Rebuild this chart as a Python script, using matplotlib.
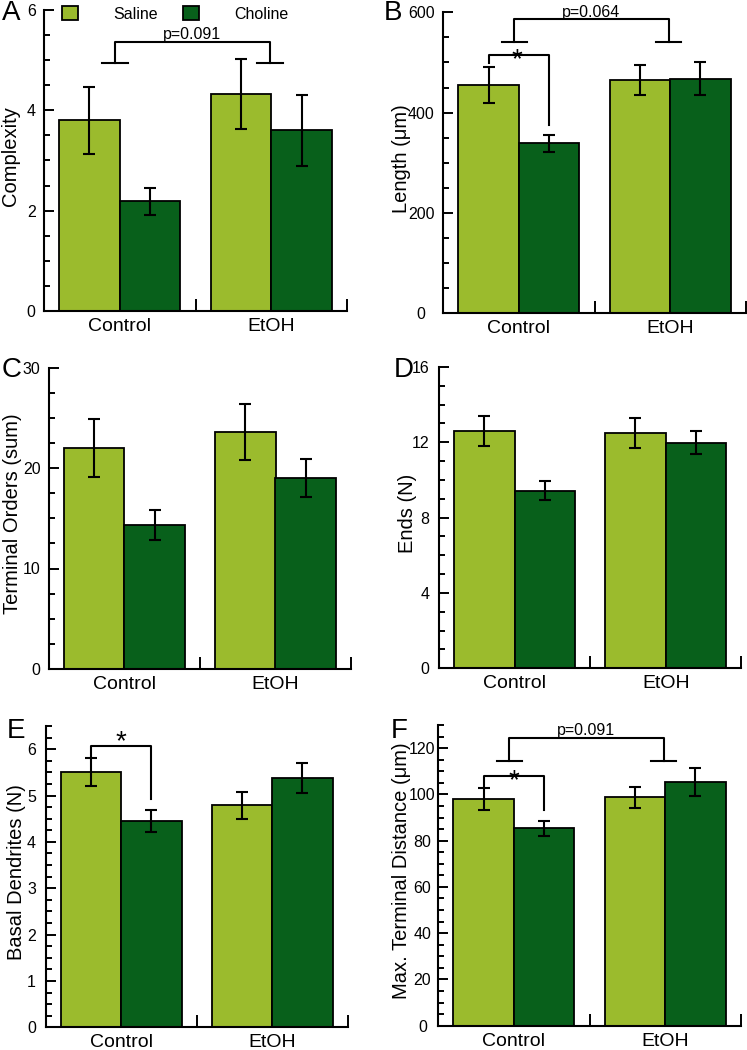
import matplotlib
matplotlib.use("Agg")
import matplotlib.pyplot as plt
from matplotlib.patches import Patch
from matplotlib.ticker import MultipleLocator

plt.rcParams["font.family"] = ["Liberation Sans", "DejaVu Sans"]

W, H = 747, 1050

groups = ["Control", "EtOH"]
saline_color = "#9bbb2d"
choline_color = "#08601b"

# means and error bars
complexity_saline = [3.80, 4.33]
complexity_saline_err = [0.67, 0.70]
complexity_choline = [2.19, 3.60]
complexity_choline_err = [0.27, 0.70]

length_saline = [455, 465]
length_saline_err = [35, 29]
length_choline = [339, 468]
length_choline_err = [17, 32]

orders_saline = [22.0, 23.6]
orders_saline_err = [2.9, 2.8]
orders_choline = [14.3, 19.0]
orders_choline_err = [1.5, 1.9]

ends_saline = [12.6, 12.5]
ends_saline_err = [0.8, 0.8]
ends_choline = [9.43, 11.98]
ends_choline_err = [0.5, 0.6]

basal_saline = [5.51, 4.79]
basal_saline_err = [0.31, 0.29]
basal_choline = [4.45, 5.38]
basal_choline_err = [0.23, 0.32]

dist_saline = [98.0, 98.7]
dist_saline_err = [4.7, 4.4]
dist_choline = [85.3, 105.2]
dist_choline_err = [3.3, 6.0]


def rect(l, r, t, b):
    return [l / W, 1 - b / H, (r - l) / W, (b - t) / H]


panels = [
    dict(letter="A", box=(44, 347, 10, 311), lpos=(2, 20), ylim=6, major=2, minor=0.5,
         ylabel="Complexity", lx=-0.112, tha="right", tpad=6,
         s=complexity_saline, se=complexity_saline_err,
         c=complexity_choline, ce=complexity_choline_err),
    dict(letter="B", box=(443.3, 745.7, 12.3, 313.3), lpos=(384, 20), ylim=600, major=200, minor=50,
         ylabel="Length (\u03bcm)", lx=-0.137, tha="center", tpad=16,
         s=length_saline, se=length_saline_err,
         c=length_choline, ce=length_choline_err),
    dict(letter="C", box=(49, 351, 367.5, 669), lpos=(2, 377), ylim=30, major=10, minor=2.5,
         ylabel="Terminal Orders (sum)", lx=-0.121, tha="right", tpad=6,
         s=orders_saline, se=orders_saline_err,
         c=orders_choline, ce=orders_choline_err),
    dict(letter="D", box=(439, 741.3, 367, 668.3), lpos=(394, 377), ylim=16, major=4, minor=1,
         ylabel="Ends (N)", lx=-0.104, tha="right", tpad=7,
         s=ends_saline, se=ends_saline_err,
         c=ends_choline, ce=ends_choline_err),
    dict(letter="E", box=(45.7, 347.7, 726, 1027.3), lpos=(7, 738), ylim=6.5, major=1, minor=0.25,
         ylabel="Basal Dendrites (N)", lx=-0.096, tha="right", tpad=7,
         s=basal_saline, se=basal_saline_err,
         c=basal_choline, ce=basal_choline_err),
    dict(letter="F", box=(438.3, 740.7, 725, 1025.7), lpos=(391, 738), ylim=130, major=20, minor=5,
         ylabel="Max. Terminal Distance (\u03bcm)", lx=-0.123, tha="center", tpad=11.5,
         s=dist_saline, se=dist_saline_err,
         c=dist_choline, ce=dist_choline_err),
]

fig = plt.figure(figsize=(W / 100, H / 100), dpi=100)
axes = {}

for p in panels:
    ax = fig.add_axes(rect(*p["box"]))
    axes[p["letter"]] = ax
    xs = [0.3, 1.3]
    xc = [0.7, 1.7]
    ax.bar(xs, p["s"], width=0.4, color=saline_color, edgecolor="black", linewidth=1.3, zorder=2)
    ax.bar(xc, p["c"], width=0.4, color=choline_color, edgecolor="black", linewidth=1.3, zorder=2)
    ax.errorbar(xs, p["s"], yerr=p["se"], fmt="none", ecolor="black", elinewidth=1.5,
                capsize=4.5, capthick=1.5, zorder=3)
    ax.errorbar(xc, p["c"], yerr=p["ce"], fmt="none", ecolor="black", elinewidth=1.5,
                capsize=4.5, capthick=1.5, zorder=3)

    ax.set_xlim(0, 2)
    ax.set_ylim(0, p["ylim"])
    for side in ["top", "right"]:
        ax.spines[side].set_visible(False)
    for side in ["left", "bottom"]:
        ax.spines[side].set_linewidth(1.5)

    ax.yaxis.set_major_locator(MultipleLocator(p["major"]))
    ax.yaxis.set_minor_locator(MultipleLocator(p["minor"]))
    ax.tick_params(axis="y", which="major", direction="in", length=7, width=1.4,
                   labelsize=11.5, pad=p["tpad"])
    ax.tick_params(axis="y", which="minor", direction="in", length=4.5, width=1.4)
    for t in ax.get_yticklabels():
        t.set_horizontalalignment(p["tha"])

    ax.set_xticks([0, 1, 2])
    ax.set_xticklabels([])
    ax.set_xticks([0.5, 1.5], groups, minor=True)
    ax.tick_params(axis="x", which="major", direction="in", length=8.5, width=1.4)
    ax.tick_params(axis="x", which="minor", length=0, labelsize=14, pad=5)

    ax.set_ylabel(p["ylabel"], fontsize=14.5, va="center")
    ax.yaxis.set_label_coords(p["lx"], 0.515)

    fig.text(p["lpos"][0] / W, 1 - p["lpos"][1] / H, p["letter"], fontsize=20,
             ha="left", va="baseline")


def group_bracket(ax, ytop, ycap, label, ytext):
    lw = 1.5
    ax.plot([0.47, 0.47, 1.49, 1.49], [ycap, ytop, ytop, ycap], color="black", lw=lw,
            clip_on=False, zorder=4)
    ax.plot([0.385, 0.555], [ycap, ycap], color="black", lw=lw, clip_on=False, zorder=4)
    ax.plot([1.405, 1.575], [ycap, ycap], color="black", lw=lw, clip_on=False, zorder=4)
    ax.text(0.98, ytext, label, fontsize=11.5, ha="center", va="center")


def star_bracket(ax, y, yleft, yright, ystar, xstar=0.49):
    ax.plot([0.3, 0.3, 0.7, 0.7], [yleft, y, y, yright], color="black", lw=1.5,
            clip_on=False, zorder=4)
    ax.text(xstar, ystar, "*", fontsize=20, ha="center", va="baseline")


group_bracket(axes["A"], 5.36, 4.94, "p=0.091", 5.52)
group_bracket(axes["B"], 586, 540, "p=0.064", 600)
star_bracket(axes["B"], 515, 499, 375, 490)
star_bracket(axes["E"], 6.07, 5.82, 4.93, 6.0, xstar=0.5)
group_bracket(axes["F"], 124.2, 114.5, "p=0.091", 127.8)
star_bracket(axes["F"], 107.9, 102.9, 93.2, 102.5, xstar=0.5)

handles = [Patch(facecolor=saline_color, edgecolor="black", linewidth=1.3, label="Saline"),
           Patch(facecolor=choline_color, edgecolor="black", linewidth=1.3, label="Choline")]
axes["A"].legend(handles=handles, loc="center left", bbox_to_anchor=(18 / 303, 0.987),
                 ncol=2, frameon=False, fontsize=11.5, handlelength=1.0, handleheight=1.0,
                 handletextpad=2.2, columnspacing=1.6, borderpad=0, borderaxespad=0)

fig.savefig("out.png", dpi=100)
